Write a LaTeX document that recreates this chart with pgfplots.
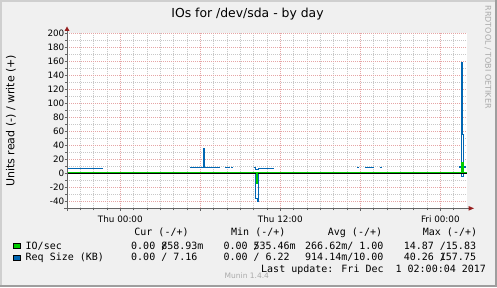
\documentclass[border=0pt]{standalone}
\usepackage{pgfplots}
\pgfplotsset{compat=1.18}
\usepackage{fontspec}
\setmainfont{DejaVu Sans}
\newfontfamily\mono{DejaVu Sans Mono}

\definecolor{bgc}{RGB}{240,240,240}
\definecolor{shadea}{RGB}{207,207,207}
\definecolor{shadeb}{RGB}{158,158,158}
\definecolor{gridred}{RGB}{230,165,165}
\definecolor{gridgray}{RGB}{200,200,200}
\definecolor{axgray}{RGB}{100,100,100}
\definecolor{arrowred}{RGB}{150,30,30}
\definecolor{iogreen}{RGB}{0,204,0}
\definecolor{reqblue}{RGB}{0,102,179}
\definecolor{wmgray}{RGB}{170,170,170}

\begin{document}
\begin{tikzpicture}[x=1pt,y=1pt]
\fill[bgc] (0,0) rectangle (497,287);
\fill[shadea] (0,285) rectangle (497,287);
\fill[shadea] (0,0) rectangle (2,287);
\fill[shadeb] (495,0) rectangle (497,287);
\fill[shadeb] (0,0) rectangle (497,2);

\begin{axis}[
  at={(67pt,78.7pt)}, anchor=south west,
  scale only axis, width=400pt, height=175pt,
  xmin=-4, xmax=26, ymin=-50, ymax=200,
  axis background/.style={fill=white},
  axis line style={draw=none},
  xtick={0,6,12,18,24},
  xticklabels={Thu 00:00,,Thu 12:00,,Fri 00:00},
  minor xtick={-3,-2,-1,1,2,3,4,5,7,8,9,10,11,13,14,15,16,17,19,20,21,22,23,25},
  ytick={-40,-20,...,200},
  minor ytick={-30,-10,10,30,50,70,90,110,130,150,170,190},
  grid=both,
  major grid style={gridred, dash pattern=on 1pt off 1pt, line width=0.6pt},
  minor grid style={gridgray, dash pattern=on 1pt off 1pt, line width=0.6pt},
  tick align=outside, major tick length=2.5pt, minor tick length=2pt,
  tick style={axgray, line width=0.6pt},
  xtick pos=left, ytick pos=left,
  ticklabel style={font=\fontsize{8.8}{10}\selectfont},
  /pgf/number format/assume math mode=true,
  yticklabel style={anchor=east, inner sep=0pt},
  xticklabel style={anchor=base, inner sep=0pt, yshift=-12pt},
  ylabel={Units read (-) / write (+)},
  ylabel style={font=\fontsize{11}{12}\selectfont, at={(axis description cs:-0.1405,0.5)}, anchor=center},
]
\addplot[reqblue, line width=1.1pt, const plot, unbounded coords=jump] table {
x y
-4 7.5
-1.33 7.5
-1.3 nan
5.25 8
6.22 36
6.28 8
7.45 8
7.5 nan
7.875 8
8.2 8
8.25 nan
8.33 8
8.45 8
8.5 nan
10.0 8
10.125 6
10.375 7.5
11.5 7.5
11.55 nan
17.75 8.5
17.9 8.5
17.95 nan
18.375 8.5
19.05 8.5
19.1 nan
19.45 8.5
19.65 8.5
19.7 nan
25.37 9
25.6 158
25.67 56
25.76 9
25.93 9
};
\addplot[reqblue, line width=1.1pt, const plot] coordinates {(10.1,0)(10.12,-36)(10.3,-39.8)(10.39,0)(10.42,0)};
\addplot[reqblue, line width=1.1pt, const plot] coordinates {(25.58,0)(25.6,-4.6)(25.76,0)(25.78,0)};
\addplot[black, line width=0.8pt] coordinates {(-4,0)(26,0)};
\addplot[iogreen, line width=1.3pt, const plot] coordinates {(-4,1.4)(25.6,15.8)(25.7,1.4)(26,1.4)};
\addplot[iogreen, line width=1.1pt, const plot] coordinates {(10.21,0)(10.22,-14.9)(10.27,0)(10.28,0)};
\end{axis}

\draw[axgray, line width=0.8pt] (64,78.7) -- (469,78.7);
\draw[axgray, line width=0.8pt] (67,76) -- (67,256);
\fill[arrowred] (64.5,256) -- (69.5,256) -- (67,260.5) -- cycle;
\fill[arrowred] (468.5,81) -- (468.5,76.3) -- (474,78.7) -- cycle;

\node[anchor=base, inner sep=0, font=\fontsize{12.4}{14}\selectfont] at (247.5,269.7) {IOs for /dev/sda - by day};
\node[rotate=-90, inner sep=0, font=\fontsize{8}{9}\selectfont, text=wmgray] at (488,229.8) {RRDTOOL / TOBI OETIKER};

\begin{scope}[every node/.style={anchor=base west, inner sep=0, font=\mono\fontsize{10}{12}\selectfont}]
\node at (134.2,51.3) {Cur (-/+)};
\node at (231,51.3) {Min (-/+)};
\node at (327.7,51.3) {Avg (-/+)};
\node at (422.7,51.3) {Max (-/+)};
\node at (25.5,37.7) {IO/sec};
\node at (131,37.7) {0.00 \rlap{/}858.93m};
\node at (223.3,37.7) {0.00 \rlap{/}535.46m};
\node at (305,37.7) {266.62m/ 1.00};
\node at (403.6,37.7) {14.87 /15.83};
\node at (25.5,26.3) {Req Size (KB)};
\node at (131,26.3) {0.00 / 7.16};
\node at (223.3,26.3) {0.00 / 6.22};
\node at (305,26.3) {914.14m/10.00};
\node at (403.6,26.3) {40.26 \rlap{/}157.75};
\node at (261,14.5) {Last update: Fri Dec\ \ 1 02:00:04 2017};
\end{scope}
\node[anchor=base west, inner sep=0, font=\fontsize{7.5}{9}\selectfont, text=wmgray] at (224.5,8.7) {Munin 1.4.4};

\filldraw[fill=iogreen, draw=black, line width=0.6pt] (13.5,39.0) rectangle (19.8,44.2);
\filldraw[fill=reqblue, draw=black, line width=0.6pt] (13.5,26.6) rectangle (19.8,31.8);

\pgfresetboundingbox
\useasboundingbox (0,0) rectangle (497,287);
\end{tikzpicture}
\end{document}
